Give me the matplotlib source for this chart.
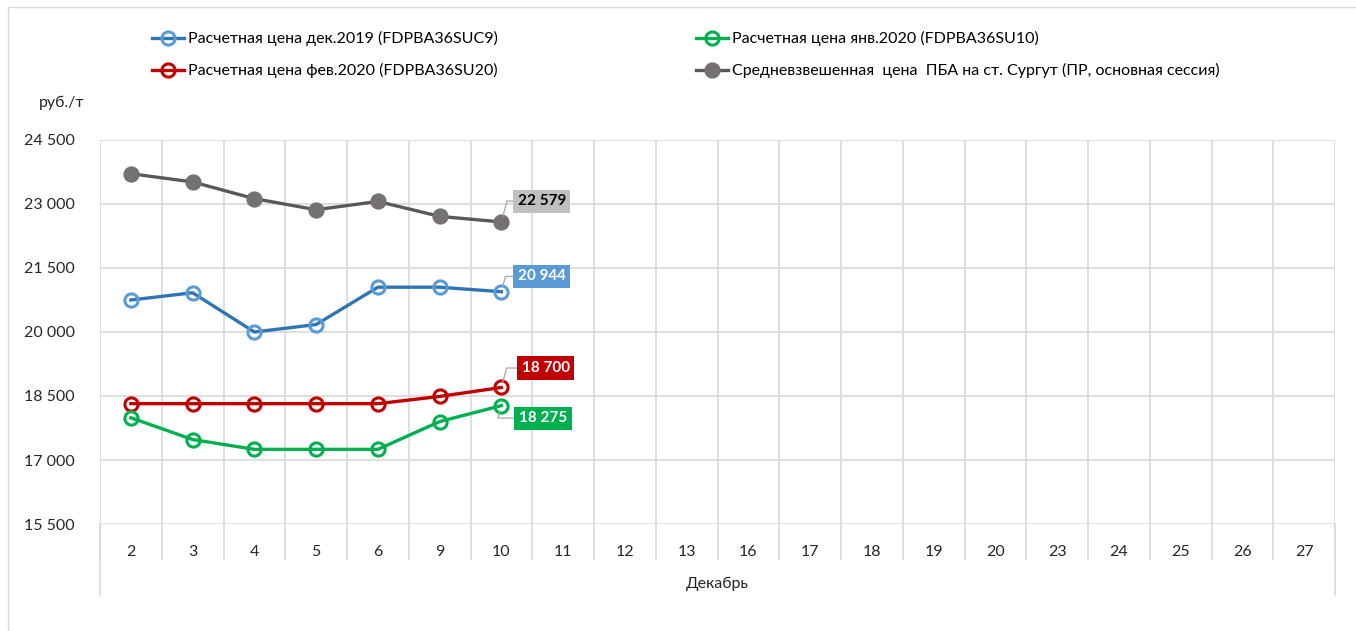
import matplotlib.pyplot as plt
from matplotlib.lines import Line2D
from matplotlib.patches import Rectangle

plt.rcParams['font.family'] = ['Lato', 'DejaVu Sans']

# Торговые дни декабря
days = ['2', '3', '4', '5', '6', '9', '10', '11', '12', '13',
        '16', '17', '18', '19', '20', '23', '24', '25', '26', '27']

# Расчетные цены фьючерсов и средневзвешенная цена, руб./т
dec2019 = [20750, 20920, 20000, 20175, 21050, 21050, 20944]
jan2020 = [17990, 17480, 17250, 17250, 17250, 17900, 18275]
feb2020 = [18320, 18320, 18320, 18320, 18320, 18490, 18700]
surgut = [23710, 23517, 23125, 22866, 23060, 22710, 22579]

yticks = [15500, 17000, 18500, 20000, 21500, 23000, 24500]

W, H = 1356, 631
fig = plt.figure(figsize=(W / 100, H / 100), dpi=100)
ax = fig.add_axes([100 / W, 1 - 524 / H, 1235 / W, 384 / H])

grid_c = '#D9D9D9'
x = list(range(len(dec2019)))

series = [
    (dec2019, '#2E75B6', '#5B9BD5', 'none', 'Расчетная цена дек.2019 (FDPBA36SUC9)'),
    (feb2020, '#C00000', '#C00000', 'none', 'Расчетная цена фев.2020 (FDPBA36SU20)'),
    (jan2020, '#00B050', '#00B050', 'none', 'Расчетная цена янв.2020 (FDPBA36SU10)'),
    (surgut, '#595959', '#767171', '#767171',
     'Средневзвешенная  цена  ПБА на ст. Сургут (ПР, основная сессия)'),
]
handles = []
for vals, lc, mc, fc, name in series:
    h, = ax.plot(x, vals, color=lc, lw=2.4, marker='o', ms=9.5, mec=mc, mfc=fc,
                 mew=2.2, label=name, zorder=3)
    handles.append(h)

ax.set_xlim(-0.5, len(days) - 0.5)
ax.set_ylim(15500, 24500)
ax.set_yticks(yticks)
ax.set_yticklabels([f'{v:,}'.replace(',', ' ') for v in yticks])
ax.set_xticks(range(len(days)))
ax.set_xticklabels(days)
ax.set_xticks([i - 0.5 for i in range(len(days) + 1)], minor=True)

ax.grid(True, axis='y', color=grid_c, lw=1.2)
ax.grid(True, axis='x', which='minor', color=grid_c, lw=1.2)
for s in ax.spines.values():
    s.set_visible(False)
ax.tick_params(axis='y', length=0, pad=18, labelsize=11.5, labelcolor='#262626')
ax.tick_params(axis='x', which='major', length=0, pad=15, labelsize=11.5,
               labelcolor='#262626')
ax.tick_params(axis='x', which='minor', length=26, width=1.2, color=grid_c,
               direction='out')

# внешние границы группы «Декабрь»
for xa in (0, 1):
    ax.add_line(Line2D([xa, xa], [0, -71 / 384], transform=ax.transAxes,
                       color=grid_c, lw=1.2, clip_on=False))
ax.text(0.5, -60 / 384, 'Декабрь', transform=ax.transAxes, ha='center',
        va='center', fontsize=11.5, color='#262626')

fig.text(62 / W, 1 - 103 / H, 'руб./т', ha='center', va='center',
         fontsize=11.5, color='#262626')

# подписи последних значений
labels = [
    (surgut, '#BFBFBF', 'black', (29, 15)),
    (dec2019, '#5B9BD5', 'white', (29, 11)),
    (feb2020, '#C00000', 'white', (32, 14)),
    (jan2020, '#00B050', 'white', (30, -9)),
]
for vals, bg, tc, off in labels:
    i = len(vals) - 1
    ax.annotate(f'{vals[i]:,}'.replace(',', ' '), xy=(i, vals[i]), xytext=off,
                textcoords='offset points', ha='center', va='center',
                fontsize=11, fontweight='bold', color=tc, zorder=5,
                bbox=dict(boxstyle='square,pad=0.3', fc=bg, ec='none'),
                arrowprops=dict(arrowstyle='-', color='#A6A6A6', lw=0.9,
                                shrinkA=0, shrinkB=4,
                                connectionstyle='angle,angleA=0,angleB=75'))

leg_kw = dict(loc='upper left', frameon=False, fontsize=11.5, handlelength=2.0,
              handletextpad=0.2, labelspacing=1.05, borderaxespad=0)
l1 = fig.legend(handles[:2], [h.get_label() for h in handles[:2]],
                bbox_to_anchor=(146 / W, 1 - 25 / H), **leg_kw)
l2 = fig.legend(handles[2:], [h.get_label() for h in handles[2:]],
                bbox_to_anchor=(690 / W, 1 - 25 / H), **leg_kw)

fig.patches.append(Rectangle((8 / W, -0.1), 1.2, 1 - 7 / H + 0.1,
                             transform=fig.transFigure, fill=False,
                             ec='#D9D9D9', lw=1))

fig.savefig('out.png', dpi=100)
